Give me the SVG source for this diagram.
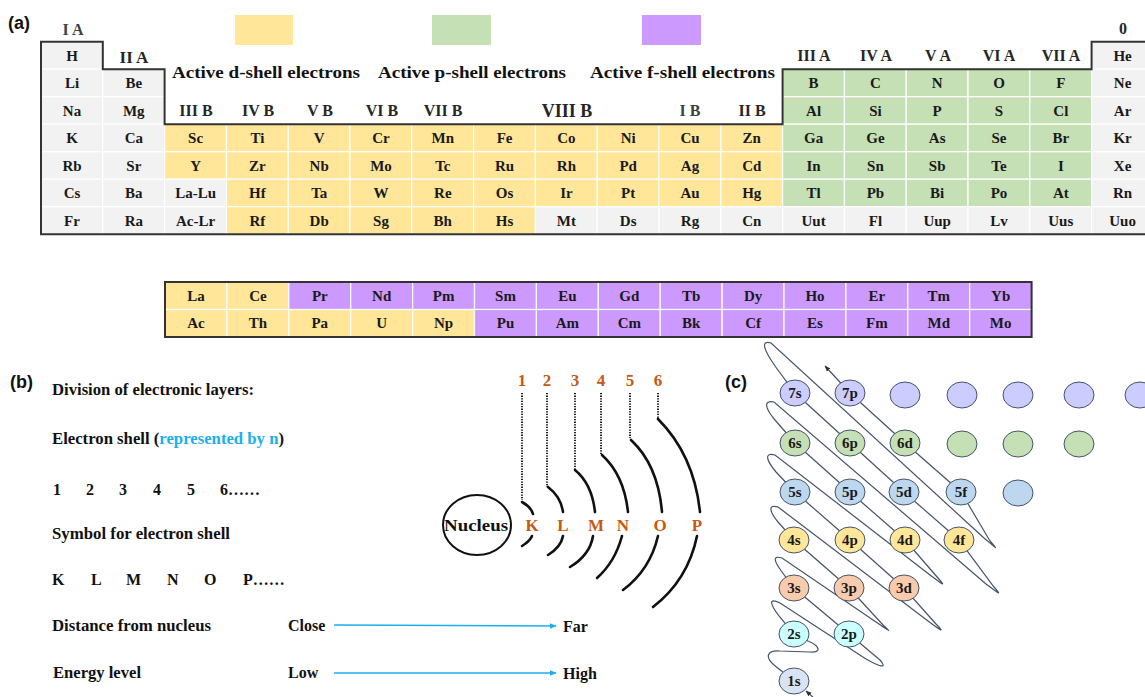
<svg xmlns="http://www.w3.org/2000/svg" width="1145" height="697" viewBox="0 0 1145 697">
<style>
.g{fill:#f2f2f2;stroke:#fff;stroke-width:1.2}
.y{fill:#ffe699;stroke:#fff;stroke-width:1.2}
.n{fill:#c5e0b4;stroke:#fff;stroke-width:1.2}
.p{fill:#cc99ff;stroke:#fff;stroke-width:1.2}
.el{font-family:"Liberation Serif","Times New Roman",serif;font-weight:bold;font-size:15px;text-anchor:middle;fill:#1a1a1a}
.hd{font-family:"Liberation Serif","Times New Roman",serif;font-weight:bold;font-size:16px;text-anchor:middle;fill:#262626}
.lg{font-family:"Liberation Serif","Times New Roman",serif;font-weight:bold;font-size:17px;fill:#111}
.lab{font-family:"Liberation Sans",Arial,sans-serif;font-weight:bold;font-size:18px;fill:#111}
.bt{font-family:"Liberation Serif","Times New Roman",serif;font-weight:bold;font-size:16px;fill:#111}
.or{font-family:"Liberation Serif","Times New Roman",serif;font-weight:bold;font-size:17px;fill:#c55a11;text-anchor:middle}
.arc{fill:none;stroke:#111;stroke-width:2.6;stroke-linecap:round}
.dot{fill:none;stroke:#222;stroke-width:2;stroke-dasharray:1.3 1.3}
.blue{fill:none;stroke:#1aaff0;stroke-width:1.6}
.orb{stroke:#44546a;stroke-width:1}
.ot{font-family:"Liberation Serif","Times New Roman",serif;font-weight:bold;font-size:15px;text-anchor:middle;fill:#1a1a1a}
.sp{fill:none;stroke:#44546a;stroke-width:1.2}
</style>
<defs>
<marker id="ab" viewBox="0 0 10 10" refX="9" refY="5" markerWidth="7" markerHeight="7" orient="auto" markerUnits="userSpaceOnUse"><path d="M0,1 L10,5 L0,9 Z" fill="#1aaff0"/></marker>
<marker id="ak" viewBox="0 0 10 10" refX="9" refY="5" markerWidth="6" markerHeight="6" orient="auto" markerUnits="userSpaceOnUse"><path d="M0,1 L10,5 L0,9 Z" fill="#333"/></marker>
</defs>
<rect width="1145" height="697" fill="#fff"/>

<g id="label-a"><text class="lab" x="8" y="29">(a)</text></g>

<g id="legend">
<rect x="235" y="15" width="58" height="30" fill="#ffe699"/>
<rect x="432" y="15" width="59" height="30" fill="#c5e0b4"/>
<rect x="642" y="15" width="59" height="30" fill="#cc99ff"/>
<text class="lg" x="172" y="78" textLength="188" lengthAdjust="spacingAndGlyphs">Active d-shell electrons</text>
<text class="lg" x="378" y="78" textLength="188" lengthAdjust="spacingAndGlyphs">Active p-shell electrons</text>
<text class="lg" x="590" y="78" textLength="185" lengthAdjust="spacingAndGlyphs">Active f-shell electrons</text>
</g>

<g id="periodic-table">
<rect class="g" x="41" y="41.7" width="61.8" height="27.5"/>
<rect class="g" x="1091.6" y="41.7" width="61.8" height="27.5"/>
<rect class="g" x="41" y="69.2" width="61.8" height="27.5"/>
<rect class="g" x="102.8" y="69.2" width="61.8" height="27.5"/>
<rect class="n" x="782.6" y="69.2" width="61.8" height="27.5"/>
<rect class="n" x="844.4" y="69.2" width="61.8" height="27.5"/>
<rect class="n" x="906.2" y="69.2" width="61.8" height="27.5"/>
<rect class="n" x="968" y="69.2" width="61.8" height="27.5"/>
<rect class="n" x="1029.8" y="69.2" width="61.8" height="27.5"/>
<rect class="g" x="1091.6" y="69.2" width="61.8" height="27.5"/>
<rect class="g" x="41" y="96.7" width="61.8" height="27.5"/>
<rect class="g" x="102.8" y="96.7" width="61.8" height="27.5"/>
<rect class="n" x="782.6" y="96.7" width="61.8" height="27.5"/>
<rect class="n" x="844.4" y="96.7" width="61.8" height="27.5"/>
<rect class="n" x="906.2" y="96.7" width="61.8" height="27.5"/>
<rect class="n" x="968" y="96.7" width="61.8" height="27.5"/>
<rect class="n" x="1029.8" y="96.7" width="61.8" height="27.5"/>
<rect class="g" x="1091.6" y="96.7" width="61.8" height="27.5"/>
<rect class="g" x="41" y="124.2" width="61.8" height="27.5"/>
<rect class="g" x="102.8" y="124.2" width="61.8" height="27.5"/>
<rect class="y" x="164.6" y="124.2" width="61.8" height="27.5"/>
<rect class="y" x="226.4" y="124.2" width="61.8" height="27.5"/>
<rect class="y" x="288.2" y="124.2" width="61.8" height="27.5"/>
<rect class="y" x="350" y="124.2" width="61.8" height="27.5"/>
<rect class="y" x="411.8" y="124.2" width="61.8" height="27.5"/>
<rect class="y" x="473.6" y="124.2" width="61.8" height="27.5"/>
<rect class="y" x="535.4" y="124.2" width="61.8" height="27.5"/>
<rect class="y" x="597.2" y="124.2" width="61.8" height="27.5"/>
<rect class="y" x="659" y="124.2" width="61.8" height="27.5"/>
<rect class="y" x="720.8" y="124.2" width="61.8" height="27.5"/>
<rect class="n" x="782.6" y="124.2" width="61.8" height="27.5"/>
<rect class="n" x="844.4" y="124.2" width="61.8" height="27.5"/>
<rect class="n" x="906.2" y="124.2" width="61.8" height="27.5"/>
<rect class="n" x="968" y="124.2" width="61.8" height="27.5"/>
<rect class="n" x="1029.8" y="124.2" width="61.8" height="27.5"/>
<rect class="g" x="1091.6" y="124.2" width="61.8" height="27.5"/>
<rect class="g" x="41" y="151.7" width="61.8" height="27.5"/>
<rect class="g" x="102.8" y="151.7" width="61.8" height="27.5"/>
<rect class="y" x="164.6" y="151.7" width="61.8" height="27.5"/>
<rect class="y" x="226.4" y="151.7" width="61.8" height="27.5"/>
<rect class="y" x="288.2" y="151.7" width="61.8" height="27.5"/>
<rect class="y" x="350" y="151.7" width="61.8" height="27.5"/>
<rect class="y" x="411.8" y="151.7" width="61.8" height="27.5"/>
<rect class="y" x="473.6" y="151.7" width="61.8" height="27.5"/>
<rect class="y" x="535.4" y="151.7" width="61.8" height="27.5"/>
<rect class="y" x="597.2" y="151.7" width="61.8" height="27.5"/>
<rect class="y" x="659" y="151.7" width="61.8" height="27.5"/>
<rect class="y" x="720.8" y="151.7" width="61.8" height="27.5"/>
<rect class="n" x="782.6" y="151.7" width="61.8" height="27.5"/>
<rect class="n" x="844.4" y="151.7" width="61.8" height="27.5"/>
<rect class="n" x="906.2" y="151.7" width="61.8" height="27.5"/>
<rect class="n" x="968" y="151.7" width="61.8" height="27.5"/>
<rect class="n" x="1029.8" y="151.7" width="61.8" height="27.5"/>
<rect class="g" x="1091.6" y="151.7" width="61.8" height="27.5"/>
<rect class="g" x="41" y="179.2" width="61.8" height="27.5"/>
<rect class="g" x="102.8" y="179.2" width="61.8" height="27.5"/>
<rect class="g" x="164.6" y="179.2" width="61.8" height="27.5"/>
<rect class="y" x="226.4" y="179.2" width="61.8" height="27.5"/>
<rect class="y" x="288.2" y="179.2" width="61.8" height="27.5"/>
<rect class="y" x="350" y="179.2" width="61.8" height="27.5"/>
<rect class="y" x="411.8" y="179.2" width="61.8" height="27.5"/>
<rect class="y" x="473.6" y="179.2" width="61.8" height="27.5"/>
<rect class="y" x="535.4" y="179.2" width="61.8" height="27.5"/>
<rect class="y" x="597.2" y="179.2" width="61.8" height="27.5"/>
<rect class="y" x="659" y="179.2" width="61.8" height="27.5"/>
<rect class="y" x="720.8" y="179.2" width="61.8" height="27.5"/>
<rect class="n" x="782.6" y="179.2" width="61.8" height="27.5"/>
<rect class="n" x="844.4" y="179.2" width="61.8" height="27.5"/>
<rect class="n" x="906.2" y="179.2" width="61.8" height="27.5"/>
<rect class="n" x="968" y="179.2" width="61.8" height="27.5"/>
<rect class="n" x="1029.8" y="179.2" width="61.8" height="27.5"/>
<rect class="g" x="1091.6" y="179.2" width="61.8" height="27.5"/>
<rect class="g" x="41" y="206.7" width="61.8" height="27.5"/>
<rect class="g" x="102.8" y="206.7" width="61.8" height="27.5"/>
<rect class="g" x="164.6" y="206.7" width="61.8" height="27.5"/>
<rect class="y" x="226.4" y="206.7" width="61.8" height="27.5"/>
<rect class="y" x="288.2" y="206.7" width="61.8" height="27.5"/>
<rect class="y" x="350" y="206.7" width="61.8" height="27.5"/>
<rect class="y" x="411.8" y="206.7" width="61.8" height="27.5"/>
<rect class="y" x="473.6" y="206.7" width="61.8" height="27.5"/>
<rect class="g" x="535.4" y="206.7" width="61.8" height="27.5"/>
<rect class="g" x="597.2" y="206.7" width="61.8" height="27.5"/>
<rect class="g" x="659" y="206.7" width="61.8" height="27.5"/>
<rect class="g" x="720.8" y="206.7" width="61.8" height="27.5"/>
<rect class="g" x="782.6" y="206.7" width="61.8" height="27.5"/>
<rect class="g" x="844.4" y="206.7" width="61.8" height="27.5"/>
<rect class="g" x="906.2" y="206.7" width="61.8" height="27.5"/>
<rect class="g" x="968" y="206.7" width="61.8" height="27.5"/>
<rect class="g" x="1029.8" y="206.7" width="61.8" height="27.5"/>
<rect class="g" x="1091.6" y="206.7" width="61.8" height="27.5"/>

<path d="M1160,41.7 H1091.6 V69.2 H782.6 V124.2 H164.6 V69.2 H102.8 V41.7 H41 V234.2 H1160" fill="none" stroke="#333" stroke-width="2"/>

<g class="hd">
<text x="73" y="35" fill="#404040">I A</text>
<text x="134" y="63" style="font-size:17px">II A</text>
<text x="196" y="116">III B</text>
<text x="258" y="116">IV B</text>
<text x="320" y="116">V B</text>
<text x="382" y="116">VI B</text>
<text x="443" y="116">VII B</text>
<text x="567" y="117" style="font-size:18px">VIII B</text>
<text x="690" y="116" fill="#404040">I B</text>
<text x="752" y="116">II B</text>
<text x="814" y="61">III A</text>
<text x="876" y="61">IV A</text>
<text x="938" y="61">V A</text>
<text x="999" y="61">VI A</text>
<text x="1061" y="61">VII A</text>
<text x="1123" y="34">0</text>
</g>

<g class="el">
<text x="72" y="60.5">H</text><text x="1122.6" y="60.5">He</text>
<text x="72" y="88">Li</text><text x="133.8" y="88">Be</text>
<text x="813.6" y="88">B</text><text x="875.4" y="88">C</text><text x="937.2" y="88">N</text><text x="999" y="88">O</text><text x="1060.8" y="88">F</text><text x="1122.6" y="88">Ne</text>
<text x="72" y="115.5">Na</text><text x="133.8" y="115.5">Mg</text>
<text x="813.6" y="115.5">Al</text><text x="875.4" y="115.5">Si</text><text x="937.2" y="115.5">P</text><text x="999" y="115.5">S</text><text x="1060.8" y="115.5">Cl</text><text x="1122.6" y="115.5">Ar</text>
<text x="72" y="143">K</text><text x="133.8" y="143">Ca</text><text x="195.6" y="143">Sc</text><text x="257.4" y="143">Ti</text><text x="319.2" y="143">V</text><text x="381" y="143">Cr</text><text x="442.8" y="143">Mn</text><text x="504.6" y="143">Fe</text><text x="566.4" y="143">Co</text><text x="628.2" y="143">Ni</text><text x="690" y="143">Cu</text><text x="751.8" y="143">Zn</text><text x="813.6" y="143">Ga</text><text x="875.4" y="143">Ge</text><text x="937.2" y="143">As</text><text x="999" y="143">Se</text><text x="1060.8" y="143">Br</text><text x="1122.6" y="143">Kr</text>
<text x="72" y="170.5">Rb</text><text x="133.8" y="170.5">Sr</text><text x="195.6" y="170.5">Y</text><text x="257.4" y="170.5">Zr</text><text x="319.2" y="170.5">Nb</text><text x="381" y="170.5">Mo</text><text x="442.8" y="170.5">Tc</text><text x="504.6" y="170.5">Ru</text><text x="566.4" y="170.5">Rh</text><text x="628.2" y="170.5">Pd</text><text x="690" y="170.5">Ag</text><text x="751.8" y="170.5">Cd</text><text x="813.6" y="170.5">In</text><text x="875.4" y="170.5">Sn</text><text x="937.2" y="170.5">Sb</text><text x="999" y="170.5">Te</text><text x="1060.8" y="170.5">I</text><text x="1122.6" y="170.5">Xe</text>
<text x="72" y="198">Cs</text><text x="133.8" y="198">Ba</text><text x="195.6" y="198">La-Lu</text><text x="257.4" y="198">Hf</text><text x="319.2" y="198">Ta</text><text x="381" y="198">W</text><text x="442.8" y="198">Re</text><text x="504.6" y="198">Os</text><text x="566.4" y="198">Ir</text><text x="628.2" y="198">Pt</text><text x="690" y="198">Au</text><text x="751.8" y="198">Hg</text><text x="813.6" y="198">Tl</text><text x="875.4" y="198">Pb</text><text x="937.2" y="198">Bi</text><text x="999" y="198">Po</text><text x="1060.8" y="198">At</text><text x="1122.6" y="198">Rn</text>
<text x="72" y="225.5">Fr</text><text x="133.8" y="225.5">Ra</text><text x="195.6" y="225.5">Ac-Lr</text><text x="257.4" y="225.5">Rf</text><text x="319.2" y="225.5">Db</text><text x="381" y="225.5">Sg</text><text x="442.8" y="225.5">Bh</text><text x="504.6" y="225.5">Hs</text><text x="566.4" y="225.5">Mt</text><text x="628.2" y="225.5">Ds</text><text x="690" y="225.5">Rg</text><text x="751.8" y="225.5">Cn</text><text x="813.6" y="225.5">Uut</text><text x="875.4" y="225.5">Fl</text><text x="937.2" y="225.5">Uup</text><text x="999" y="225.5">Lv</text><text x="1060.8" y="225.5">Uus</text><text x="1122.6" y="225.5">Uuo</text>
</g>
</g>

<g id="f-block">
<rect class="y" x="165" y="282" width="61.9" height="27.5"/>
<rect class="y" x="226.9" y="282" width="61.9" height="27.5"/>
<rect class="p" x="288.8" y="282" width="61.9" height="27.5"/>
<rect class="p" x="350.7" y="282" width="61.9" height="27.5"/>
<rect class="p" x="412.6" y="282" width="61.9" height="27.5"/>
<rect class="p" x="474.5" y="282" width="61.9" height="27.5"/>
<rect class="p" x="536.4" y="282" width="61.9" height="27.5"/>
<rect class="p" x="598.3" y="282" width="61.9" height="27.5"/>
<rect class="p" x="660.2" y="282" width="61.9" height="27.5"/>
<rect class="p" x="722.1" y="282" width="61.9" height="27.5"/>
<rect class="p" x="784" y="282" width="61.9" height="27.5"/>
<rect class="p" x="845.9" y="282" width="61.9" height="27.5"/>
<rect class="p" x="907.8" y="282" width="61.9" height="27.5"/>
<rect class="p" x="969.7" y="282" width="61.9" height="27.5"/>
<rect class="y" x="165" y="309.5" width="61.9" height="27.5"/>
<rect class="y" x="226.9" y="309.5" width="61.9" height="27.5"/>
<rect class="y" x="288.8" y="309.5" width="61.9" height="27.5"/>
<rect class="y" x="350.7" y="309.5" width="61.9" height="27.5"/>
<rect class="y" x="412.6" y="309.5" width="61.9" height="27.5"/>
<rect class="p" x="474.5" y="309.5" width="61.9" height="27.5"/>
<rect class="p" x="536.4" y="309.5" width="61.9" height="27.5"/>
<rect class="p" x="598.3" y="309.5" width="61.9" height="27.5"/>
<rect class="p" x="660.2" y="309.5" width="61.9" height="27.5"/>
<rect class="p" x="722.1" y="309.5" width="61.9" height="27.5"/>
<rect class="p" x="784" y="309.5" width="61.9" height="27.5"/>
<rect class="p" x="845.9" y="309.5" width="61.9" height="27.5"/>
<rect class="p" x="907.8" y="309.5" width="61.9" height="27.5"/>
<rect class="p" x="969.7" y="309.5" width="61.9" height="27.5"/>
<rect x="165" y="282" width="866.6" height="55" fill="none" stroke="#333" stroke-width="2"/>
<g class="el">
<text x="196" y="300.5">La</text><text x="257.9" y="300.5">Ce</text><text x="319.8" y="300.5">Pr</text><text x="381.7" y="300.5">Nd</text><text x="443.6" y="300.5">Pm</text><text x="505.5" y="300.5">Sm</text><text x="567.4" y="300.5">Eu</text><text x="629.3" y="300.5">Gd</text><text x="691.2" y="300.5">Tb</text><text x="753.1" y="300.5">Dy</text><text x="815" y="300.5">Ho</text><text x="876.9" y="300.5">Er</text><text x="938.8" y="300.5">Tm</text><text x="1000.7" y="300.5">Yb</text>
<text x="196" y="328">Ac</text><text x="257.9" y="328">Th</text><text x="319.8" y="328">Pa</text><text x="381.7" y="328">U</text><text x="443.6" y="328">Np</text><text x="505.5" y="328">Pu</text><text x="567.4" y="328">Am</text><text x="629.3" y="328">Cm</text><text x="691.2" y="328">Bk</text><text x="753.1" y="328">Cf</text><text x="815" y="328">Es</text><text x="876.9" y="328">Fm</text><text x="938.8" y="328">Md</text><text x="1000.7" y="328">Mo</text>
</g>
</g>

<g id="label-b"><text class="lab" x="10" y="388">(b)</text></g>
<g id="text-b">
<text class="bt" x="52" y="395" textLength="202" lengthAdjust="spacingAndGlyphs">Division of electronic layers:</text>
<text class="bt" x="52" y="444" textLength="232" lengthAdjust="spacingAndGlyphs">Electron shell (<tspan fill="#1aaff0">represented by n</tspan>)</text>
<text class="bt" x="53" y="495">1</text><text class="bt" x="86" y="495">2</text><text class="bt" x="119" y="495">3</text><text class="bt" x="153" y="495">4</text><text class="bt" x="187" y="495">5</text><text class="bt" x="220" y="495">6……</text>
<text class="bt" x="52" y="539" textLength="178" lengthAdjust="spacingAndGlyphs">Symbol for electron shell</text>
<text class="bt" x="52" y="585">K</text><text class="bt" x="91" y="585">L</text><text class="bt" x="126" y="585">M</text><text class="bt" x="167" y="585">N</text><text class="bt" x="204" y="585">O</text><text class="bt" x="243" y="585">P……</text>
<text class="bt" x="52" y="631" textLength="159" lengthAdjust="spacingAndGlyphs">Distance from nucleus</text>
<text class="bt" x="288" y="631">Close</text>
<text class="bt" x="563" y="632">Far</text>
<text class="bt" x="53" y="678" textLength="88" lengthAdjust="spacingAndGlyphs">Energy level</text>
<text class="bt" x="288" y="678">Low</text>
<text class="bt" x="563" y="679">High</text>
</g>
<g id="connectors-b">
<line class="blue" x1="334" y1="625" x2="556" y2="626" marker-end="url(#ab)"/>
<line class="blue" x1="334" y1="673" x2="556" y2="673" marker-end="url(#ab)"/>
</g>

<g id="shells">
<g id="nucleus">
<ellipse cx="477" cy="525" rx="34" ry="30" fill="none" stroke="#111" stroke-width="2"/>
<text x="476" y="531" textLength="64" lengthAdjust="spacingAndGlyphs" style="font-family:'Liberation Serif',serif;font-weight:bold;font-size:17px;text-anchor:middle;fill:#111">Nucleus</text>
</g>
<g class="or">
<text x="522" y="386">1</text><text x="547" y="386">2</text><text x="575" y="386">3</text><text x="601" y="386">4</text><text x="630" y="386">5</text><text x="658" y="386">6</text>
<text x="532" y="531">K</text><text x="563" y="531">L</text><text x="596" y="531">M</text><text x="623" y="531">N</text><text x="660" y="531">O</text><text x="697" y="531">P</text>
</g>
<g>
<line class="dot" x1="522" y1="393" x2="522" y2="500"/>
<line class="dot" x1="547" y1="393" x2="547" y2="487"/>
<line class="dot" x1="575" y1="393" x2="575" y2="470"/>
<line class="dot" x1="601" y1="393" x2="601" y2="455"/>
<line class="dot" x1="630" y1="393" x2="630" y2="438"/>
<line class="dot" x1="658" y1="393" x2="658" y2="418"/>
</g>
<g>
<path class="arc" d="M522,502 Q531,507 533,514"/><path class="arc" d="M532,536 Q530,541 522,546"/>
<path class="arc" d="M548,487 Q561,497 563,512"/><path class="arc" d="M563,536 Q561,547 548,555"/>
<path class="arc" d="M575,470 Q592,484 595,512"/><path class="arc" d="M593,536 Q590,555 570,567"/>
<path class="arc" d="M602,455 Q624,475 628,512"/><path class="arc" d="M622,536 Q615,562 597,578"/>
<path class="arc" d="M631,440 Q658,465 662,512"/><path class="arc" d="M658,536 Q650,570 623,590"/>
<path class="arc" d="M658,419 Q694,455 700,512"/><path class="arc" d="M697,536 Q688,580 653,607"/>
</g>
</g>

<g id="label-c"><text class="lab" x="725" y="388">(c)</text></g>

<g id="connectors-c">
<path class="sp" d="M794,681 L774,665 C764,656 768,650 780,651 L810,652 C822,653 820,646 808,641 L794,634 L779,616 C770,604 768,597 780,603 L866,659 C880,667 888,669 880,660 L849,634 L794,588 L782,572 C774,561 772,555 782,558 L876,622 C888,630 893,634 884,626 L849,588 L794,540 L778,522 C769,511 768,504 778,507 L928,621 C940,630 946,634 936,624 L904,588 L850,540 L795,492 L776,472 C766,460 764,452 775,455 L930,575 C942,584 947,588 938,578 L905,540 L850,492 L795,443 L775,420 C765,408 763,400 774,402 L986,584 C998,593 1003,597 994,587 L959,540 L904,492 L850,443 L795,393 L775,366 C764,350 760,340 771,343 L984,538 C996,548 1000,552 990,541 L961,492 L905,443 L850,393 L825,366" marker-end="url(#ak)"/>
<line class="sp" x1="815" y1="699" x2="806" y2="691" marker-end="url(#ak)"/>
</g>

<g id="orbitals">
<g id="o7s"><ellipse class="orb" cx="795" cy="393" rx="15" ry="13" fill="#ccccff"/><text class="ot" x="795" y="398">7s</text></g>
<g id="o7p"><ellipse class="orb" cx="850" cy="393" rx="15" ry="13" fill="#ccccff"/><text class="ot" x="850" y="398">7p</text></g>
<g id="o7a"><ellipse class="orb" cx="905" cy="395" rx="15" ry="13" fill="#ccccff"/></g>
<g id="o7b"><ellipse class="orb" cx="962" cy="395" rx="15" ry="13" fill="#ccccff"/></g>
<g id="o7c"><ellipse class="orb" cx="1018" cy="395" rx="15" ry="13" fill="#ccccff"/></g>
<g id="o7d"><ellipse class="orb" cx="1079" cy="395" rx="15" ry="13" fill="#ccccff"/></g>
<g id="o7e"><ellipse class="orb" cx="1140" cy="395" rx="15" ry="13" fill="#ccccff"/></g>
<g id="o6s"><ellipse class="orb" cx="795" cy="443" rx="15" ry="13" fill="#c5e0b4"/><text class="ot" x="795" y="448">6s</text></g>
<g id="o6p"><ellipse class="orb" cx="850" cy="443" rx="15" ry="13" fill="#c5e0b4"/><text class="ot" x="850" y="448">6p</text></g>
<g id="o6d"><ellipse class="orb" cx="905" cy="443" rx="15" ry="13" fill="#c5e0b4"/><text class="ot" x="905" y="448">6d</text></g>
<g id="o6a"><ellipse class="orb" cx="962" cy="444" rx="15" ry="13" fill="#c5e0b4"/></g>
<g id="o6b"><ellipse class="orb" cx="1018" cy="444" rx="15" ry="13" fill="#c5e0b4"/></g>
<g id="o6c"><ellipse class="orb" cx="1079" cy="444" rx="15" ry="13" fill="#c5e0b4"/></g>
<g id="o5s"><ellipse class="orb" cx="795" cy="492" rx="15" ry="13" fill="#bdd7ee"/><text class="ot" x="795" y="497">5s</text></g>
<g id="o5p"><ellipse class="orb" cx="850" cy="492" rx="15" ry="13" fill="#bdd7ee"/><text class="ot" x="850" y="497">5p</text></g>
<g id="o5d"><ellipse class="orb" cx="904" cy="492" rx="15" ry="13" fill="#bdd7ee"/><text class="ot" x="904" y="497">5d</text></g>
<g id="o5f"><ellipse class="orb" cx="961" cy="492" rx="15" ry="13" fill="#bdd7ee"/><text class="ot" x="961" y="497">5f</text></g>
<g id="o5a"><ellipse class="orb" cx="1018" cy="493" rx="15" ry="13" fill="#bdd7ee"/></g>
<g id="o4s"><ellipse class="orb" cx="794" cy="540" rx="15" ry="13" fill="#ffe699"/><text class="ot" x="794" y="545">4s</text></g>
<g id="o4p"><ellipse class="orb" cx="850" cy="540" rx="15" ry="13" fill="#ffe699"/><text class="ot" x="850" y="545">4p</text></g>
<g id="o4d"><ellipse class="orb" cx="905" cy="540" rx="15" ry="13" fill="#ffe699"/><text class="ot" x="905" y="545">4d</text></g>
<g id="o4f"><ellipse class="orb" cx="959" cy="540" rx="15" ry="13" fill="#ffe699"/><text class="ot" x="959" y="545">4f</text></g>
<g id="o3s"><ellipse class="orb" cx="794" cy="588" rx="15" ry="13" fill="#f8cbad"/><text class="ot" x="794" y="593">3s</text></g>
<g id="o3p"><ellipse class="orb" cx="849" cy="588" rx="15" ry="13" fill="#f8cbad"/><text class="ot" x="849" y="593">3p</text></g>
<g id="o3d"><ellipse class="orb" cx="904" cy="588" rx="15" ry="13" fill="#f8cbad"/><text class="ot" x="904" y="593">3d</text></g>
<g id="o2s"><ellipse class="orb" cx="794" cy="634" rx="15" ry="13" fill="#ccffff"/><text class="ot" x="794" y="639">2s</text></g>
<g id="o2p"><ellipse class="orb" cx="849" cy="634" rx="15" ry="13" fill="#ccffff"/><text class="ot" x="849" y="639">2p</text></g>
<g id="o1s"><ellipse class="orb" cx="794" cy="681" rx="15" ry="13" fill="#dae3f3"/><text class="ot" x="794" y="686">1s</text></g>
</g>
</svg>
